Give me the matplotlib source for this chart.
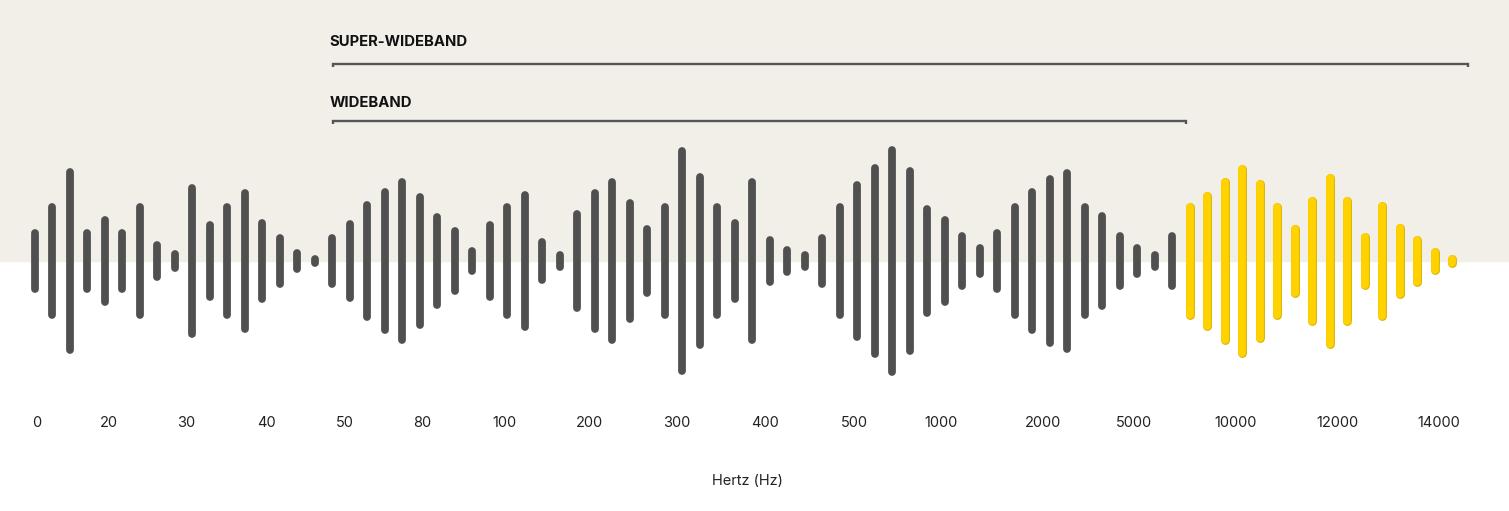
import numpy as np
import matplotlib
matplotlib.use("Agg")
from matplotlib import pyplot as plt

plt.rcParams['font.family'] = ['Inter', 'DejaVu Sans']

# half-heights of the waveform bars (px, caps included)
gray_bars = [32, 57.5, 93, 32, 45, 32, 57.5, 20, 10.5, 77, 40, 57.5, 72, 41.7,
             27, 12, 5.7, 26.7, 41, 60, 73, 82.5, 67.5, 48, 34, 14, 40, 57.5,
             70, 23.3, 10, 51, 71.7, 82.5, 62, 36, 57.5, 113.5, 88, 57.5, 42,
             82.5, 25, 15.3, 10, 27, 57.5, 80, 97.3, 115, 94, 56, 45, 28.5,
             16.7, 32.3, 57.5, 73, 86, 92.3, 57.5, 49.3, 28.5, 16.8, 10, 28.5]
yellow_bars = [57.5, 69, 83, 95.7, 80.7, 57.5, 36, 63.5, 86.5, 63.5, 27.5, 59,
               37.3, 25, 12.5, 6.2]

tick_labels = ["0", "20", "30", "40", "50", "80", "100", "200", "300", "400",
               "500", "1000", "2000", "5000", "10000", "12000", "14000"]
tick_pos = [0.1, 4.25, 8.66, 13.2, 17.7, 22.1, 26.8, 31.7, 36.7, 41.7,
            46.8, 51.8, 57.6, 62.8, 68.6, 74.4, 80.2]

bands = ["SUPER-WIDEBAND", "WIDEBAND"]
band_start = [17.05, 17.05]
band_end = [81.9, 65.8]

gray = "#505050"
yellow = "#FFD200"
beige = "#F2EFE8"

fig = plt.figure(figsize=(15.09, 5.11), dpi=100)
ax = fig.add_axes([0, 0, 1, 1])
ax.set_xlim(-2, 84.229)
ax.set_ylim(-250, 261)
ax.axis("off")

ax.axhspan(0, 261, color=beige, zorder=0)

lw = 5.6
cap = 3.9
xg = np.arange(len(gray_bars))
xy = np.arange(len(yellow_bars)) + len(gray_bars)
hg = np.array(gray_bars) - cap
hy = np.array(yellow_bars) - cap

ax.vlines(xg, -hg, hg, color=gray, lw=lw, zorder=2)
ax.vlines(xy, -hy, hy, color="#D9B400", lw=lw + 0.8, zorder=2)
ax.vlines(xy, -hy, hy, color=yellow, lw=lw, zorder=3)
for coll in ax.collections:
    coll.set_capstyle("round")

# bracket lines
band_y = [197.5, 140.5]
label_y = [219.5, 158.5]
for name, s, e, y, ty in zip(bands, band_start, band_end, band_y, label_y):
    ax.plot([s, s, e, e], [y - 3.5, y, y, y - 3.5], color="#555555", lw=1.7,
            solid_capstyle="butt", solid_joinstyle="miter", zorder=2)
    ax.text(s - 0.2, ty, name, fontsize=10.7, fontweight="bold",
            color="#111111", ha="left", va="center")

for p, t in zip(tick_pos, tick_labels):
    ax.text(p, -162, t, fontsize=10.5, color="#222222", ha="center", va="center")

ax.text(40.7, -220, "Hertz (Hz)", fontsize=10.5, color="#222222",
        ha="center", va="center")

fig.savefig("out.png", dpi=100, facecolor="white")
